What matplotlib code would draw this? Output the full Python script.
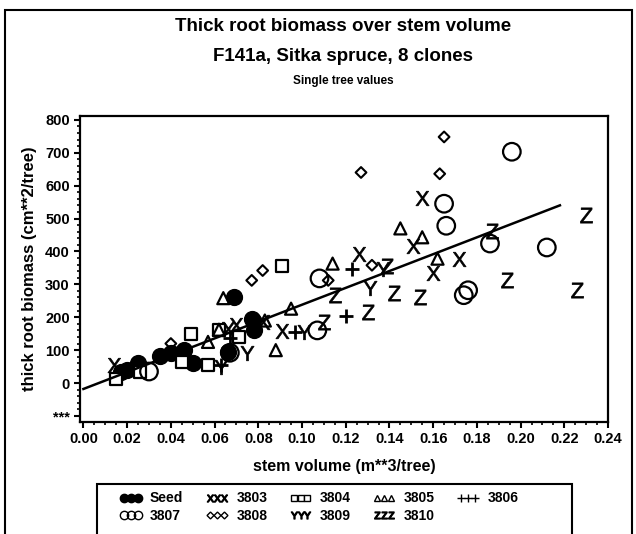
import matplotlib
matplotlib.use('Agg')
import matplotlib.pyplot as plt
from matplotlib.lines import Line2D
from matplotlib.patches import Rectangle
from matplotlib.ticker import AutoMinorLocator

plt.rcParams['font.family'] = ['Liberation Sans', 'DejaVu Sans']
plt.rcParams['font.weight'] = 'bold'
plt.rcParams['mathtext.fontset'] = 'custom'
plt.rcParams['mathtext.sf'] = 'Liberation Sans:normal'

# single tree values per clone: (stem volume, thick root biomass)
seed_x = [0.017, 0.020, 0.025, 0.035, 0.040, 0.046, 0.050, 0.066, 0.069, 0.077, 0.078]
seed_y = [33, 40, 60, 82, 90, 100, 60, 95, 260, 196, 160]
c3803_x = [0.014, 0.066, 0.070, 0.082, 0.091, 0.126, 0.151, 0.155, 0.160, 0.172]
c3803_y = [55, 165, 175, 185, 158, 392, 418, 563, 333, 378]
c3804_x = [0.015, 0.026, 0.045, 0.049, 0.057, 0.062, 0.071, 0.091]
c3804_y = [12, 33, 65, 150, 55, 160, 140, 357]
c3805_x = [0.057, 0.062, 0.064, 0.083, 0.088, 0.095, 0.114, 0.145, 0.155, 0.162]
c3805_y = [125, 162, 258, 190, 100, 226, 363, 470, 443, 378]
c3806_x = [0.063, 0.067, 0.097, 0.120, 0.123]
c3806_y = [55, 137, 155, 205, 348]
c3807_x = [0.030, 0.067, 0.107, 0.108, 0.165, 0.166, 0.174, 0.176, 0.186, 0.196, 0.212]
c3807_y = [35, 92, 160, 318, 545, 478, 267, 282, 424, 703, 412]
c3808_x = [0.040, 0.077, 0.082, 0.112, 0.127, 0.132, 0.163, 0.165]
c3808_y = [120, 312, 342, 312, 640, 358, 636, 748]
c3809_x = [0.063, 0.075, 0.101, 0.131, 0.137]
c3809_y = [50, 90, 155, 290, 348]
c3810_x = [0.110, 0.115, 0.130, 0.139, 0.142, 0.154, 0.187, 0.194, 0.226, 0.230]
c3810_y = [185, 268, 215, 357, 275, 262, 463, 312, 282, 510]

clone_names = ['Seed', '3803', '3804', '3805', '3806', '3807', '3808', '3809', '3810']

# fitted line
fit_intercept = -18
fit_slope = 2560
fit_range = [0.0, 0.218]

y_ticks = [-100, 0, 100, 200, 300, 400, 500, 600, 700, 800]
y_ticklabels = ['***', '0', '100', '200', '300', '400', '500', '600', '700', '800']
x_ticks = [0.00, 0.02, 0.04, 0.06, 0.08, 0.10, 0.12, 0.14, 0.16, 0.18, 0.20, 0.22, 0.24]

fig = plt.figure(figsize=(6.36, 5.34), dpi=100)
ax = fig.add_axes([0.126, 0.210, 0.830, 0.573])

styles = [
    dict(marker='o', s=130, facecolors='black', edgecolors='black'),
    dict(marker=r'$\mathsf{X}$', s=110, color='black', linewidths=0.5),
    dict(marker='s', s=75, facecolors='white', edgecolors='black', linewidths=1.6),
    dict(marker='^', s=75, facecolors='none', edgecolors='black', linewidths=1.6),
    dict(marker='+', s=90, color='black', linewidths=2),
    dict(marker='o', s=160, facecolors='none', edgecolors='black', linewidths=1.6),
    dict(marker='D', s=30, facecolors='none', edgecolors='black', linewidths=1.5),
    dict(marker=r'$\mathsf{Y}$', s=110, color='black', linewidths=0.5),
    dict(marker=r'$\mathsf{Z}$', s=120, color='black', linewidths=0.5),
]
xs = [seed_x, c3803_x, c3804_x, c3805_x, c3806_x, c3807_x, c3808_x, c3809_x, c3810_x]
ys = [seed_y, c3803_y, c3804_y, c3805_y, c3806_y, c3807_y, c3808_y, c3809_y, c3810_y]
for gx, gy, style in zip(xs, ys, styles):
    ax.scatter(gx, gy, zorder=3, **style)

fx = fit_range
fy = [fit_intercept + fit_slope * v for v in fx]
ax.plot(fx, fy, color='black', linewidth=1.8, zorder=4)

ax.set_xlim(-0.0015, 0.24)
ax.set_ylim(-118, 812)
ax.set_xticks(x_ticks)
ax.set_xticklabels(['%.2f' % v for v in x_ticks])
ax.set_yticks(y_ticks)
ax.set_yticklabels(y_ticklabels)
ax.xaxis.set_minor_locator(AutoMinorLocator(4))
ax.yaxis.set_minor_locator(AutoMinorLocator(5))
ax.tick_params(which='major', length=4, width=1.5, labelsize=10.5, direction='out')
ax.tick_params(which='minor', length=2, width=1.2, direction='out')
for sp in ax.spines.values():
    sp.set_linewidth(1.6)

ax.set_xlabel('stem volume (m**3/tree)', fontsize=11.5, fontweight='bold', labelpad=9)
ax.set_ylabel('thick root biomass (cm**2/tree)', fontsize=12, fontweight='bold', labelpad=6)

fig.text(0.54, 0.950, 'Thick root biomass over stem volume', ha='center', va='center',
         fontsize=13.5, fontweight='bold')
fig.text(0.54, 0.895, 'F141a, Sitka spruce, 8 clones', ha='center', va='center',
         fontsize=13.5, fontweight='bold')
fig.text(0.54, 0.848, 'Single tree values', ha='center', va='center',
         fontsize=8.5, fontweight='bold')

# legend with three symbols per clone, like the original
handles = [
    Line2D([], [], marker='o', markersize=6, color='black', linestyle='none'),
    Line2D([], [], marker=r'$\mathsf{X}$', markersize=5, color='black', linestyle='none'),
    Line2D([], [], marker='s', markersize=5, markerfacecolor='white', markeredgecolor='black', linestyle='none'),
    Line2D([], [], marker='^', markersize=5, markerfacecolor='none', markeredgecolor='black', linestyle='none'),
    Line2D([], [], marker='+', markersize=6, color='black', linestyle='none'),
    Line2D([], [], marker='o', markersize=6, markerfacecolor='none', markeredgecolor='black', linestyle='none'),
    Line2D([], [], marker='D', markersize=3.5, markerfacecolor='none', markeredgecolor='black', linestyle='none'),
    Line2D([], [], marker=r'$\mathsf{Y}$', markersize=5, color='black', linestyle='none'),
    Line2D([], [], marker=r'$\mathsf{Z}$', markersize=5, color='black', linestyle='none'),
]
# matplotlib fills legend columns first, so reorder to read row by row
order = [0, 5, 1, 6, 2, 7, 3, 8, 4]
leg = fig.legend([handles[i] for i in order], [clone_names[i] for i in order],
                 loc='upper left', bbox_to_anchor=(107 / 636, 1 - 479 / 534),
                 ncol=5, numpoints=3, handlelength=1.6,
                 handletextpad=0.6, columnspacing=1.6, labelspacing=0.25,
                 fontsize=10, frameon=False, borderpad=0.4)

# legend box, wider than the entries as in the original
fig.patches.append(Rectangle((97 / 636, -0.05), 475 / 636, 0.05 + (534 - 484) / 534,
                             transform=fig.transFigure, fill=False,
                             edgecolor='black', linewidth=1.5))

# outer frame around the whole graphic
fig.patches.append(Rectangle((5 / 636, -0.05), 627 / 636, 1.05 - 10 / 534,
                             transform=fig.transFigure, fill=False,
                             edgecolor='black', linewidth=1.5))

fig.savefig('out.png', dpi=100)
